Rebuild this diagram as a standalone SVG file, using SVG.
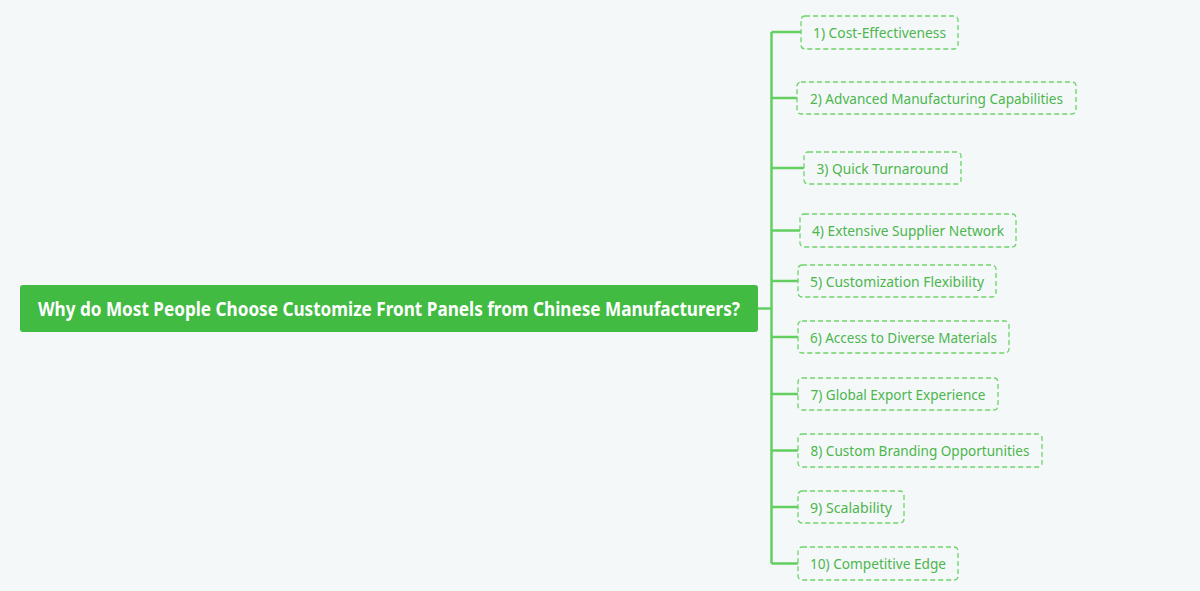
<svg xmlns="http://www.w3.org/2000/svg" width="1200" height="591" viewBox="0 0 1200 591">
<style>
.bg{fill:#f4f8f9}
.root{fill:#41bb42}
.roott{font-family:"Noto Sans","Open Sans",sans-serif;font-weight:bold;font-size:20px;fill:#ffffff}
.box{fill:none;stroke:#6dd36b;stroke-width:1.3;stroke-dasharray:5 3}
.t{font-family:"Noto Sans","Open Sans",sans-serif;font-size:14.5px;fill:#4cb64d}
.c{fill:none;stroke:#62cf60;stroke-width:2.5}
</style>
<rect class="bg" x="0" y="0" width="1200" height="591"/>
<g id="connectors">
<path class="c" d="M758 308.5H771.5M771.5 32V563.5"/>
<path class="c" d="M771.5 32H801M771.5 98H797M771.5 168H804M771.5 230.5H800M771.5 281H798M771.5 337H798M771.5 394H798M771.5 450.5H798M771.5 507H798M771.5 563.5H798"/>
</g>
<g id="root">
<rect class="root" x="20" y="285" width="738" height="47" rx="3"/>
<text class="roott" x="389" y="315.5" text-anchor="middle" textLength="702" lengthAdjust="spacingAndGlyphs">Why do Most People Choose Customize Front Panels from Chinese Manufacturers?</text>
</g>
<g id="n1"><rect class="box" x="801" y="16" width="157" height="33" rx="4"/><text class="t" x="879.5" y="37.5" text-anchor="middle" textLength="133" lengthAdjust="spacingAndGlyphs">1) Cost-Effectiveness</text></g>
<g id="n2"><rect class="box" x="797" y="82" width="279" height="32" rx="4"/><text class="t" x="936.5" y="103.5" text-anchor="middle" textLength="253" lengthAdjust="spacingAndGlyphs">2) Advanced Manufacturing Capabilities</text></g>
<g id="n3"><rect class="box" x="804" y="152" width="157" height="32" rx="4"/><text class="t" x="882.5" y="173.5" text-anchor="middle" textLength="132" lengthAdjust="spacingAndGlyphs">3) Quick Turnaround</text></g>
<g id="n4"><rect class="box" x="800" y="214" width="216" height="33" rx="4"/><text class="t" x="908" y="236" text-anchor="middle" textLength="192" lengthAdjust="spacingAndGlyphs">4) Extensive Supplier Network</text></g>
<g id="n5"><rect class="box" x="798" y="265" width="198" height="32" rx="4"/><text class="t" x="897" y="286.5" text-anchor="middle" textLength="174" lengthAdjust="spacingAndGlyphs">5) Customization Flexibility</text></g>
<g id="n6"><rect class="box" x="798" y="321" width="211" height="32" rx="4"/><text class="t" x="903.5" y="342.5" text-anchor="middle" textLength="187" lengthAdjust="spacingAndGlyphs">6) Access to Diverse Materials</text></g>
<g id="n7"><rect class="box" x="798" y="378" width="200" height="32" rx="4"/><text class="t" x="898" y="399.5" text-anchor="middle" textLength="175" lengthAdjust="spacingAndGlyphs">7) Global Export Experience</text></g>
<g id="n8"><rect class="box" x="798" y="434" width="244" height="33" rx="4"/><text class="t" x="920" y="456" text-anchor="middle" textLength="219" lengthAdjust="spacingAndGlyphs">8) Custom Branding Opportunities</text></g>
<g id="n9"><rect class="box" x="798" y="491" width="106" height="32" rx="4"/><text class="t" x="851" y="512.5" text-anchor="middle" textLength="82" lengthAdjust="spacingAndGlyphs">9) Scalability</text></g>
<g id="n10"><rect class="box" x="798" y="547" width="160" height="33" rx="4"/><text class="t" x="878" y="569" text-anchor="middle" textLength="136" lengthAdjust="spacingAndGlyphs">10) Competitive Edge</text></g>
</svg>
